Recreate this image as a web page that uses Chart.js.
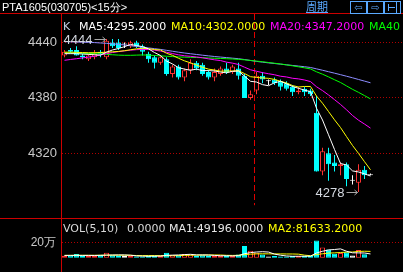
<!DOCTYPE html>
<html>
<head>
<meta charset="utf-8">
<title>PTA1605 15分</title>
<script src="https://cdn.jsdelivr.net/npm/chart.js@4.4.1/dist/chart.umd.min.js"></script>
<style>
html,body{margin:0;padding:0;background:#000;}
#wrap{position:relative;width:403px;height:272px;overflow:hidden;background:#000;}
#wrap canvas{position:absolute;left:0;}
.t{position:absolute;white-space:nowrap;font-family:"DejaVu Sans",sans-serif;font-size:11px;line-height:11px;}
.ln{position:absolute;background:#cc0000;}
.ic{position:absolute;top:1px;width:15px;height:11px;border:1px solid #5aa9ff;color:#5aa9ff;font-family:"DejaVu Sans";font-size:10px;line-height:11px;text-align:center;overflow:hidden;}
.ic i{position:absolute;background:#5aa9ff;}
</style>
</head>
<body>
<div id="wrap">
  <canvas id="priceCanvas" width="403" height="218" style="top:0;width:403px;height:218px"></canvas>
  <canvas id="volCanvas" width="403" height="54" style="top:218px;width:403px;height:54px"></canvas>
  <div class="ln" style="left:0;top:13px;width:403px;height:1px"></div>
  <div class="ln" style="left:61px;top:14px;width:1px;height:258px"></div>
  <div class="ln" style="left:0;top:218px;width:403px;height:1px"></div>
  <div class="t" style="left:2px;top:1px;color:#ffffff;font-family:'Liberation Sans',sans-serif;font-size:11px;line-height:12px">PTA1605(030705)&lt;15分&gt;</div>
  <div class="t" style="left:306px;top:0px;color:#5aa9ff;font-family:'Noto Sans CJK SC';font-size:11px;line-height:12px;text-decoration:underline">周期</div>
  <div class="ic" style="left:350px">⇦</div>
  <div class="ic" style="left:367px">⇨</div>
  <div class="ic" style="left:384px"><i style="left:3px;top:5px;width:7px;height:1px"></i><i style="left:3px;top:2px;width:1px;height:7px"></i><i style="left:11px;top:0;width:1px;height:11px"></i></div>
  <div class="t" style="left:63px;top:21px;color:#c8d0e8">K</div>
  <div class="t" id="lgMa5" style="left:79px;top:21px;color:#ffffff"></div>
  <div class="t" id="lgMa10" style="left:171px;top:21px;color:#ffff00"></div>
  <div class="t" id="lgMa20" style="left:270px;top:21px;color:#ff00ff"></div>
  <div class="t" id="lgMa40" style="left:369px;top:21px;color:#00ff00">MA40</div>
  <div class="t" id="lgVol" style="left:63px;top:223px;color:#d8d8d8"></div>
  <div class="t" id="lgVolNow" style="left:127px;top:223px;color:#d8d8d8"></div>
  <div class="t" id="lgVma1" style="left:169px;top:223px;color:#e8e8e8"></div>
  <div class="t" id="lgVma2" style="left:268px;top:223px;color:#ffff00"></div>
</div>
<script>
// ---- data ----
const opens = [4426,4432,4432,4426,4422,4424,4430,4424,4440,4440,
  4438,4436,4440,4436,4428,4424,4418,4422,4406,4414,
  4402,4410,4418,4416,4408,4402,4406,4412,4408,4412,
  4404,4380,4388,4404,4398,4400,4398,4396,4392,4386,
  4390,4388,4364,4300,4320,4310,4306,4308,4290,4288,
  4302,4296];
const highs = [4432,4434,4436,4428,4428,4432,4432,4444,4444,4444,
  4440,4442,4442,4438,4430,4426,4426,4424,4416,4416,
  4412,4422,4420,4418,4410,4412,4414,4418,4416,4418,
  4406,4388,4408,4408,4400,4402,4400,4398,4394,4392,
  4392,4390,4382,4326,4326,4318,4310,4310,4296,4308,
  4306,4298];
const lows = [4424,4428,4426,4422,4420,4422,4424,4422,4434,4432,
  4434,4434,4434,4426,4418,4412,4416,4404,4402,4400,
  4398,4406,4410,4404,4400,4398,4404,4406,4406,4400,
  4380,4378,4384,4396,4394,4394,4388,4388,4382,4384,
  4382,4382,4300,4296,4290,4300,4296,4284,4286,4278,
  4292,4296];
const closes = [4430,4430,4426,4424,4426,4428,4428,4442,4436,4434,
  4438,4440,4436,4430,4422,4418,4424,4406,4414,4402,
  4410,4418,4412,4406,4402,4408,4412,4408,4414,4404,
  4380,4384,4404,4400,4398,4396,4392,4390,4386,4388,
  4386,4384,4300,4322,4308,4306,4308,4292,4290,4302,
  4296,4296];
const volumes = [25800,32300,47100,25800,21300,21300,38700,64500,32300,25800,
  21300,21300,17400,17400,21300,25800,25800,64500,32300,32300,
  49700,43200,25800,32300,25800,25800,21300,25800,21300,43200,
  150300,90300,64500,43200,17400,21300,17400,17400,21300,21300,
  21300,21300,222000,131000,105352,52000,60000,72000,30000,100000,
  43980,0];
const ma5 = [4428,4428,4428,4427.6,4427.2,4426.8,4426.4,4429.6,4432,4433.6,
  4435.6,4438,4436.8,4435.6,4433.2,4429.2,4426,4420,4416.8,4412.8,
  4411.2,4410,4411.2,4409.6,4409.6,4409.2,4408,4407.2,4408.8,4409.2,
  4403.6,4398,4397.2,4394.4,4393.2,4396.4,4398,4395.2,4392.4,4390.4,
  4388.4,4386.8,4368.8,4356,4340,4324,4308.8,4307.2,4300.8,4299.6,
  4297.6,4295.2];
const ma10 = [4429.6,4429.6,4429.4,4429.2,4429,4429,4429.2,4429.6,4430,4430.4,
  4431.2,4432.2,4433.2,4433.8,4433.4,4432.4,4432,4428.4,4426.2,4423,
  4420.2,4418,4415.6,4413.2,4411.2,4410.2,4409,4409.2,4409.2,4409.4,
  4406.4,4403,4402.2,4401.6,4401.2,4400,4398,4396.2,4393.4,4391.8,
  4392.4,4392.4,4382,4374.2,4365.2,4356.2,4347.8,4338,4328.4,4319.8,
  4310.8,4302];
const ma20 = [4420.8,4421.7,4422.5,4423.4,4424.2,4425.2,4426.6,4428,4429.2,4430.2,
  4431,4431.8,4432.3,4432.6,4432.4,4431.8,4430.8,4429.6,4428.1,4426.7,
  4425.7,4425.1,4424.4,4423.5,4422.3,4421.3,4420.5,4418.8,4417.7,4416.2,
  4413.3,4410.5,4408.9,4407.4,4406.2,4405.1,4403.5,4402.7,4401.3,4400.6,
  4399.4,4397.7,4392.1,4387.9,4383.2,4378.1,4372.9,4367.1,4360.9,4355.8,
  4351.6,4347.2];
const ma40 = [4429,4428.8,4428.6,4428.4,4428.2,4428,4427.6,4427.2,4426.8,4426.4,
  4426.2,4426.2,4426.4,4426.6,4426.4,4426,4425.6,4425.2,4424.8,4424.4,
  4424.2,4424,4423.8,4423.6,4423.3,4423,4422.8,4422.5,4422.2,4421.8,
  4421.3,4420.6,4419.9,4419.2,4418.4,4417.6,4416.8,4415.8,4414.8,4413.7,
  4412.6,4411.4,4408.3,4405.7,4402.8,4399.7,4396.7,4393,4389.3,4386,
  4382.5,4378.9];
const ma60 = [4441,4440.8,4440.6,4440.4,4440.2,4440,4439.6,4439.2,4438.6,4438,
  4437.4,4436.6,4435.8,4435,4434.2,4433.4,4432.6,4431.6,4430.6,4429.6,
  4428.7,4427.9,4427.1,4426.3,4425.6,4424.9,4424.3,4423.7,4423.1,4422.5,
  4421.6,4420.6,4419.6,4418.8,4418,4417.3,4416.6,4415.9,4415.2,4414.5,
  4413.8,4413,4411.5,4410,4408.4,4406.8,4405.2,4403.5,4401.8,4400,
  4398.2,4396.4];
const volMa5 = [30000,30500,31000,30500,30460,29560,30840,34320,35620,36520,
  36520,33040,23620,20640,19740,20640,21540,30960,33940,36140,
  40920,44400,36660,36660,35360,30580,26200,26200,24000,27480,
  52380,66180,73920,78300,73140,47340,32760,23340,18960,19740,
  19740,20520,61440,83380,100190,106330,114070,84070,63870,62800,
  61200,49196];
const volMa10 = [31000,31000,31500,31500,31500,32000,32500,33000,33300,33490,
  33040,31940,28970,28130,28130,28580,27290,27290,27290,27940,
  30780,32970,33810,35300,35750,35750,35300,31430,30330,31420,
  41480,46190,50060,51150,50310,49860,49470,48630,48630,46440,
  33540,26640,42390,51170,59970,63040,67300,72760,73630,81500,
  83760,81633.2];
const priceTicks = [4320, 4380, 4440];
const volTicks = [200000];
const volTickLabels = ['20万'];
const sessionStartBar = 32;

// ---- styling ----
const UP = '#ff3232', DOWN = '#00ffff', FLAT = '#ffffff';
const BAR_W = 5;
const bars = opens.map((_, i) => i);
const kind = bars.map(i => closes[i] > opens[i] ? UP : (closes[i] < opens[i] ? DOWN : FLAT));
const fills = kind.map(c => c === UP ? '#000000' : c);
const pts = arr => arr.map((v, i) => ({x: i, y: v}));
const last = a => a[a.length - 1];

document.getElementById('lgMa5').textContent = 'MA5:' + last(ma5).toFixed(4);
document.getElementById('lgMa10').textContent = 'MA10:' + last(ma10).toFixed(4);
document.getElementById('lgMa20').textContent = 'MA20:' + last(ma20).toFixed(4);
document.getElementById('lgVol').textContent = 'VOL(5,10)';
document.getElementById('lgVolNow').textContent = last(volumes).toFixed(4);
document.getElementById('lgVma1').textContent = 'MA1:' + last(volMa5).toFixed(4);
document.getElementById('lgVma2').textContent = 'MA2:' + last(volMa10).toFixed(4);

const X_MIN = -0.41667, X_MAX = 56.41667;
const tickFont = {family: "'Liberation Sans',sans-serif", size: 13};

const lineDs = (arr, color) => ({
  type: 'line', data: pts(arr), borderColor: color, borderWidth: 1,
  pointRadius: 0, fill: false, tension: 0, order: 0
});

const sessionPlugin = {
  id: 'session',
  beforeDatasetsDraw(chart) {
    const {ctx, chartArea, scales: {x}} = chart;
    const px = Math.round(x.getPixelForValue(sessionStartBar) - BAR_W / 2) + 0.5;
    ctx.save();
    ctx.strokeStyle = '#e00000';
    ctx.lineWidth = 1;
    ctx.setLineDash([6, 3]);
    ctx.beginPath();
    ctx.moveTo(px, chartArea.top);
    ctx.lineTo(px, chartArea.bottom);
    ctx.stroke();
    ctx.restore();
  }
};

const extremesPlugin = {
  id: 'extremes',
  afterDatasetsDraw(chart) {
    const {ctx, scales: {x, y}} = chart;
    let hi = 0, lo = 0;
    highs.forEach((h, i) => { if (h > highs[hi]) hi = i; });
    lows.forEach((l, i) => { if (l < lows[lo]) lo = i; });
    const mark = (i, v) => {
      const px = x.getPixelForValue(i);
      const py = Math.round(y.getPixelForValue(v)) + 0.5;
      ctx.save();
      ctx.strokeStyle = '#a8a8a8';
      ctx.lineWidth = 1;
      ctx.beginPath();
      ctx.moveTo(px - 12, py); ctx.lineTo(px - 1, py);
      ctx.moveTo(px - 4, py - 2.5); ctx.lineTo(px - 1, py); ctx.lineTo(px - 4, py + 2.5);
      ctx.stroke();
      ctx.fillStyle = '#d4d8e0';
      ctx.font = "13px 'Liberation Sans',sans-serif";
      ctx.textAlign = 'right';
      ctx.textBaseline = 'middle';
      ctx.fillText(String(v), px - 14, py + 0.5);
      ctx.restore();
    };
    mark(hi, highs[hi]);
    mark(lo, lows[lo]);
  }
};

const commonOpts = {
  responsive: false, animation: false, devicePixelRatio: 1, events: [],
  plugins: {legend: {display: false}, tooltip: {enabled: false}}
};

new Chart(document.getElementById('priceCanvas'), {
  type: 'bar',
  data: {
    datasets: [
      lineDs(ma5, '#ffffff'),
      lineDs(ma10, '#ffff00'),
      lineDs(ma20, '#ff00ff'),
      lineDs(ma40, '#00ff00'),
      lineDs(ma60, '#8c8cff'),
      {
        type: 'bar', data: bars.map(i => ({x: i, y: [opens[i], closes[i]]})),
        backgroundColor: fills, borderColor: kind, borderWidth: 1, borderSkipped: false,
        barThickness: BAR_W, grouped: false, minBarLength: 1, inflateAmount: 0, order: 1
      },
      {
        type: 'bar', data: bars.map(i => ({x: i, y: [lows[i], highs[i]]})),
        backgroundColor: kind, borderWidth: 0, barThickness: 1, grouped: false,
        inflateAmount: 0, order: 2
      }
    ]
  },
  options: Object.assign({}, commonOpts, {
    layout: {padding: {top: 14, left: 0, right: 0, bottom: 0}, autoPadding: false},
    scales: {
      x: {type: 'linear', min: X_MIN, max: X_MAX, offset: false, display: false},
      y: {
        position: 'left', min: 4263.56, max: 4471.02, bounds: 'data', beginAtZero: false,
        afterFit(s) { s.width = 62; },
        afterBuildTicks(s) { s.ticks = priceTicks.map(v => ({value: v})); },
        ticks: {color: '#c8c8c8', font: tickFont, padding: 5, callback: v => String(v)},
        grid: {color: '#b00000', lineWidth: 1, drawTicks: false},
        border: {display: false, dash: [1, 2]}
      }
    }
  }),
  plugins: [sessionPlugin, extremesPlugin]
});

new Chart(document.getElementById('volCanvas'), {
  type: 'bar',
  data: {
    datasets: [
      lineDs(volMa5, '#ffffff'),
      lineDs(volMa10, '#ffff00'),
      {
        type: 'bar', data: bars.map(i => ({x: i, y: volumes[i]})),
        backgroundColor: fills, borderColor: kind, borderWidth: 1, borderSkipped: false,
        barThickness: BAR_W, grouped: false, inflateAmount: 0, order: 1
      }
    ]
  },
  options: Object.assign({}, commonOpts, {
    layout: {padding: 0, autoPadding: false},
    scales: {
      x: {type: 'linear', min: X_MIN, max: X_MAX, offset: false, display: false},
      y: {
        position: 'left', min: -13115, max: 340984, bounds: 'data', beginAtZero: false,
        afterFit(s) { s.width = 62; },
        afterBuildTicks(s) { s.ticks = volTicks.map(v => ({value: v})); },
        ticks: {color: '#c8c8c8', font: {family: tickFont.family, size: 12}, padding: 6,
                callback: (v, idx) => volTickLabels[idx]},
        grid: {color: '#b00000', lineWidth: 1, drawTicks: false},
        border: {display: false, dash: [1, 2]}
      }
    }
  })
});
</script>
</body>
</html>
